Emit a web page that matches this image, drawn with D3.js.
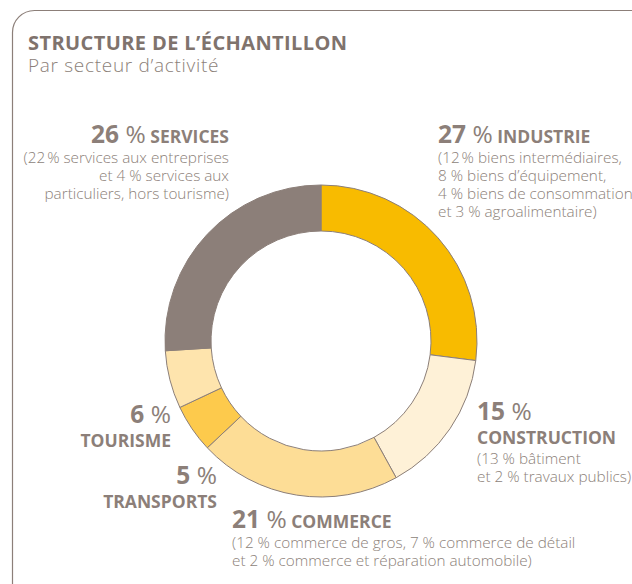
<!DOCTYPE html>
<html>
<head>
<meta charset="utf-8">
<script src="https://cdn.jsdelivr.net/npm/d3@7"></script>
<style>
  body { margin: 0; background: #fff; }
  text { font-family: "Open Sans", "Noto Sans", sans-serif; fill: #8c7f79; }
</style>
</head>
<body>
<div id="chart"></div>
<script>
var width = 632, height = 584;

// data
var sectors = ["INDUSTRIE", "CONSTRUCTION", "COMMERCE", "TRANSPORTS", "TOURISME", "SERVICES"];
var shares = [27, 15, 21, 5, 6, 26];
var colors = ["#f8bb00", "#fef1d7", "#fddd96", "#fdca4c", "#fee4ad", "#8c7f79"];
var details = [
  ["(12\u202f% biens intermédiaires,", "8 % biens d’équipement,", "4 % biens de consommation", "et 3 % agroalimentaire)"],
  ["(13 % bâtiment", "et 2 % travaux publics)"],
  ["(12 % commerce de gros, 7 % commerce de détail", "et 2 % commerce et réparation automobile)"],
  [],
  [],
  ["(22\u202f% services aux entreprises", "et 4 % services aux", "particuliers, hors tourisme)"]
];

var svg = d3.select("#chart").append("svg")
  .attr("width", width)
  .attr("height", height);

// frame
svg.append("rect")
  .attr("x", 12.5).attr("y", 10.5)
  .attr("width", 650).attr("height", 600)
  .attr("rx", 22).attr("ry", 22)
  .attr("fill", "none")
  .attr("stroke", "#8c7f79")
  .attr("stroke-width", 1.2);

svg.append("text")
  .attr("x", 28).attr("y", 50)
  .attr("font-size", 20).attr("font-weight", 700)
  .attr("letter-spacing", 0.4)
  .style("fill", "#7f736d")
  .text("STRUCTURE DE L’ÉCHANTILLON");

svg.append("text")
  .attr("x", 28).attr("y", 72)
  .attr("font-size", 19).attr("font-weight", 300)
  .attr("letter-spacing", 0.7)
  .text("Par secteur d’activité");

// donut
var cx = 321, cy = 341, outerR = 156, innerR = 110;

var pie = d3.pie().sort(null).value(function(d) { return d; });
var arc = d3.arc().innerRadius(innerR).outerRadius(outerR);

var g = svg.append("g").attr("transform", "translate(" + cx + "," + cy + ")");
g.selectAll("path")
  .data(pie(shares))
  .enter()
  .append("path")
  .attr("d", arc)
  .attr("fill", function(d, i) { return colors[i]; })
  .attr("stroke", "#8c7f79")
  .attr("stroke-width", 1);

// labels: position, anchor, whether name goes on same line as value
var labelPos = [
  {x: 438, y: 143, anchor: "start", inline: true},
  {x: 477, y: 420, anchor: "start", inline: false},
  {x: 232, y: 528, anchor: "start", inline: true},
  {x: 217, y: 484, anchor: "end", inline: false},
  {x: 171, y: 423, anchor: "end", inline: false},
  {x: 229, y: 143, anchor: "end", inline: true}
];

sectors.forEach(function(name, i) {
  var p = labelPos[i];
  var head = svg.append("text")
    .attr("x", p.x).attr("y", p.y)
    .attr("text-anchor", p.anchor)
    .attr("font-weight", 700);
  head.append("tspan").attr("font-size", 24.5).text(shares[i] + " ");
  head.append("tspan").attr("font-size", 24.5).attr("font-weight", 400).text("%");
  var y = p.y;
  if (p.inline) {
    head.append("tspan").attr("font-size", 17.5).text(" " + name);
  } else {
    y += 24;
    svg.append("text")
      .attr("x", p.x).attr("y", y)
      .attr("text-anchor", p.anchor)
      .attr("font-size", 17.5).attr("font-weight", 700)
      .text(name);
  }
  details[i].forEach(function(line, j) {
    svg.append("text")
      .attr("x", p.x).attr("y", y + 20 + j * 18)
      .attr("text-anchor", p.anchor)
      .attr("font-size", 15.3).attr("font-weight", 300)
      .text(line);
  });
});
</script>
</body>
</html>
